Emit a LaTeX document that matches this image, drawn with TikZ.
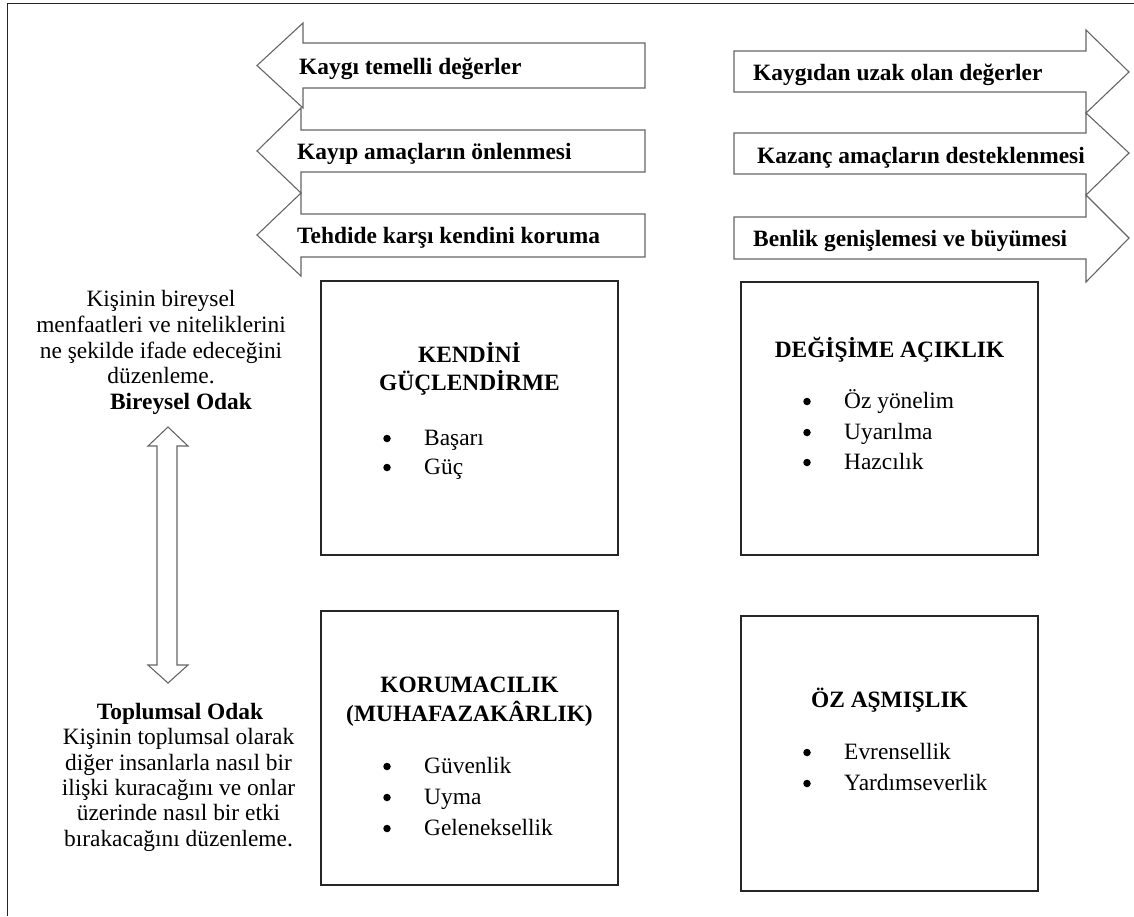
\documentclass[tikz,border=0pt]{standalone}
\usepackage{fontspec}
\setmainfont{Liberation Serif}
\begin{document}
\begin{tikzpicture}[x=1pt,y=-1pt,
  txt/.style={font=\fontsize{23.4}{26}\selectfont, inner sep=0pt, anchor=base},
  btxt/.style={font=\fontsize{23.4}{26}\selectfont\bfseries, inner sep=0pt, anchor=base},
  bul/.style={circle, fill=black, inner sep=0pt, minimum size=7.5pt},
  box/.style={draw=black!85, line width=2pt, minimum width=297pt, minimum height=274pt, inner sep=0pt},
  arr/.style={draw=black!60, line width=1.1pt, fill=white, line join=miter},
  frameline/.style={draw=black!85, line width=1pt}]
\useasboundingbox (0,0) rectangle (1134,916);
\draw[frameline] (7,916) -- (7,3) -- (1134,3);

% left arrows
\draw[arr] (645,43) -- (303,43) -- (303,23) -- (257,65.5) -- (303,108) -- (303,88) -- (645,88) -- cycle;
\draw[arr] (645,130) -- (301,130) -- (301,108) -- (257,151) -- (301,193) -- (301,172) -- (645,172) -- cycle;
\draw[arr] (645,214) -- (301,214) -- (301,193) -- (257,235) -- (301,276) -- (301,257) -- (645,257) -- cycle;
\node[btxt, anchor=base west] (l1) at (299,74) {Kaygı temelli değerler};
\node[btxt, anchor=base west] (l2) at (297,159) {Kayıp amaçların önlenmesi};
\node[btxt, anchor=base west] (l3) at (297,243) {Tehdide karşı kendini koruma};

% right arrows
\draw[arr] (734,51) -- (1086,51) -- (1086,30) -- (1129,72) -- (1086,113) -- (1086,92) -- (734,92) -- cycle;
\draw[arr] (734,133) -- (1086,133) -- (1086,113) -- (1129,153) -- (1086,195) -- (1086,174) -- (734,174) -- cycle;
\draw[arr] (734,217) -- (1086,217) -- (1086,195) -- (1129,238) -- (1086,282) -- (1086,259) -- (734,259) -- cycle;
\node[btxt, anchor=base west] (r1) at (753,80) {Kaygıdan uzak olan değerler};
\node[btxt, anchor=base west] (r2) at (757,163) {Kazanç amaçların desteklenmesi};
\node[btxt, anchor=base west] (r3) at (753,246) {Benlik genişlemesi ve büyümesi};

% double arrow
\draw[arr] (168,427) -- (188,446) -- (177,446) -- (177,665) -- (188,665) -- (168,683) -- (148,665) -- (157,665) -- (157,446) -- (148,446) -- cycle;

% left texts
\node[txt] (t1) at (161,306.7) {Kişinin bireysel};
\node[txt] (t2) at (161,332.5) {menfaatleri ve niteliklerini};
\node[txt] (t3) at (161,358) {ne şekilde ifade edeceğini};
\node[txt] (t4) at (161,383.5) {düzenleme.};
\node[btxt] (t5) at (181,409) {Bireysel Odak};

\node[btxt] (s1) at (180,719) {Toplumsal Odak};
\node[txt] (s2) at (178.5,744.5) {Kişinin toplumsal olarak};
\node[txt] (s3) at (178.5,770) {diğer insanlarla nasıl bir};
\node[txt] (s4) at (178.5,795.5) {ilişki kuracağını ve onlar};
\node[txt] (s5) at (178.5,820.5) {üzerinde nasıl bir etki};
\node[txt] (s6) at (178.5,846) {bırakacağını düzenleme.};

% boxes
\node[box] (kg) at (469.5,418) {};
\node[box, minimum height=273pt] (da) at (889.5,418.5) {};
\node[box] (km) at (469.5,748) {};
\node[box, minimum height=275pt] (oa) at (889.5,753.5) {};

% box 1
\node[btxt] (kgt1) at (469.5,362.3) {KENDİNİ};
\node[btxt] (kgt2) at (469.5,390.7) {GÜÇLENDİRME};
\node[bul] (kgb1) at (387,438.5) {};
\node[txt, anchor=base west] (kgi1) at (424,445) {Başarı};
\node[bul] (kgb2) at (387,467.5) {};
\node[txt, anchor=base west] (kgi2) at (424,474) {Güç};

% box 2
\node[btxt] (dat) at (889.5,357) {DEĞİŞİME AÇIKLIK};
\node[bul] (dab1) at (807,401.5) {};
\node[txt, anchor=base west] (dai1) at (844,408) {Öz yönelim};
\node[bul] (dab2) at (807,432.5) {};
\node[txt, anchor=base west] (dai2) at (844,439) {Uyarılma};
\node[bul] (dab3) at (807,462.5) {};
\node[txt, anchor=base west] (dai3) at (844,469) {Hazcılık};

% box 3
\node[btxt] (kmt1) at (469.5,692) {KORUMACILIK};
\node[btxt] (kmt2) at (469.5,721) {(MUHAFAZAKÂRLIK)};
\node[bul] (kmb1) at (387,766.5) {};
\node[txt, anchor=base west] (kmi1) at (424,773) {Güvenlik};
\node[bul] (kmb2) at (387,797.5) {};
\node[txt, anchor=base west] (kmi2) at (424,804) {Uyma};
\node[bul] (kmb3) at (387,828.5) {};
\node[txt, anchor=base west] (kmi3) at (424,835) {Geleneksellik};

% box 4
\node[btxt] (oat) at (889.5,707) {ÖZ AŞMIŞLIK};
\node[bul] (oab1) at (807,752.5) {};
\node[txt, anchor=base west] (oai1) at (844,759) {Evrensellik};
\node[bul] (oab2) at (807,783.5) {};
\node[txt, anchor=base west] (oai2) at (844,790) {Yardımseverlik};
\end{tikzpicture}
\end{document}
